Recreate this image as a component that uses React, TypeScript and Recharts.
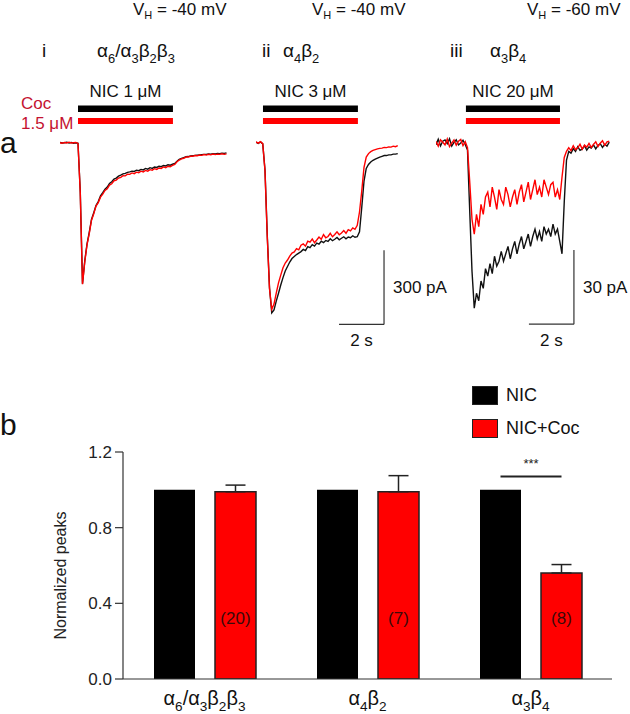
import React from "react";
import {
  LineChart,
  Line,
  XAxis,
  YAxis,
  ReferenceArea,
  ReferenceLine,
  BarChart,
  Bar,
  ErrorBar,
  LabelList,
  Legend,
} from "recharts";

const FONT = "'Liberation Sans', Arial, Helvetica, sans-serif";
const RED = "#ff0000";
const COC_TEXT = "#c41230";

// ---- panel a: whole-cell currents (pA), sampled every DT seconds ----
const DT = 0.1;

// i  α6/α3β2β3, NIC 1 µM
const nicTraceI = [
  1, -1, 0, 2, -1, 1, -2, 0, -2,
  -195, -570, -478, -410, -362, -310, -283, -254, -238, -215, -202,
  -188, -179, -165, -158, -147, -143, -135, -131, -126, -124,
  -120, -118, -115, -116, -111, -113, -108, -110, -104, -107,
  -101, -104, -98, -100, -95, -97, -92, -94, -89, -91,
  -87, -84, -75, -67, -63, -60, -57, -56, -54, -53,
  -51, -50, -49, -48, -47, -47, -45, -46, -44, -45,
  -43, -44, -42, -43, -41,
];
const cocTraceI = [
  0, -2, 1, -1, 2, -1, 0, 1, -3,
  -200, -572, -482, -413, -367, -313, -287, -256, -242, -220, -208,
  -193, -186, -171, -166, -154, -151, -143, -140, -133, -134,
  -127, -128, -122, -125, -119, -121, -115, -118, -112, -115,
  -109, -111, -105, -108, -102, -104, -98, -101, -95, -97,
  -92, -88, -77, -70, -65, -63, -58, -58, -55, -55,
  -52, -53, -50, -51, -48, -50, -47, -49, -46, -48,
  -46, -47, -45, -47, -45,
];

// ii  α4β2, NIC 3 µM
const nicTraceII = [
  2, -3, 3, -5, -110, -372, -585, -688, -676, -640,
  -608, -575, -545, -518, -500, -482, -468, -460, -452, -446,
  -440, -431, -436, -420, -424, -412, -418, -406, -410, -398,
  -404, -395, -399, -388, -396, -390, -383, -392, -386, -380,
  -388, -381, -384, -376, -382, -380, -360, -262, -155, -104,
  -88, -78, -71, -66, -62, -58, -55, -52, -52, -49,
  -49, -46, -46, -44,
];
const cocTraceII = [
  3, -2, 4, -4, -114, -380, -590, -673, -652, -608,
  -566, -535, -505, -486, -474, -458, -446, -441, -428, -433,
  -414, -409, -418, -398, -402, -389, -404, -393, -381, -390,
  -371, -384, -379, -366, -380, -371, -360, -372, -365, -355,
  -366, -351, -356, -344, -350, -334, -280, -195, -100, -58,
  -44, -36, -31, -28, -25, -23, -22, -19, -20, -17,
  -18, -14, -16, -12,
];

// iii  α3β4, NIC 20 µM
const nicTraceIII = [
  -0.8, 1.4, -1.3, 0.6, 1.1, -0.4, 1.6, -1.4, 0.1, 1.2, -0.9, -0.1, 1.0, -0.7,
  -3, -28, -52, -67, -61, -64,
  -56, -59, -51, -54, -49, -53, -46, -50, -48, -44,
  -48, -45, -42, -47, -43, -40, -45, -41, -38, -43,
  -40, -37, -42, -38, -35, -39, -36, -40, -34, -37,
  -35, -38, -33, -37, -35, -40, -45, -24, -7, -3.5,
  -4.2, -2.4, -3.5, -1.6, -3.1, -2.6, -1.2, -3.0, -1.7, -2.2,
  -0.9, -2.5, -1.1, -0.4, -1.9, -0.6, -1.4, 0.2,
];
const cocTraceIII = [
  0.5, -1.4, 1.2, 0.2, -0.9, 1.5, -1.6, -0.2, 1.1, -1.0, 0.6, 1.3, -1.2, 0.4,
  -2, -16, -31, -37, -29, -34,
  -25, -29, -22, -20, -26, -18, -22, -27, -19, -23,
  -25, -18, -21, -26, -22, -19, -25, -20, -17, -24,
  -20, -16, -23, -19, -15, -21, -18, -22, -15, -18,
  -21, -17, -16, -22, -19, -23, -14, -6, -3.5, -2,
  -3.2, -1.2, -2.8, -2.1, -0.6, -2.6, -1.0, -1.8, -0.3, -1.9,
  -0.7, 0.4, -1.6, -0.2, 0.8, -1.1, 0.3, 0.6,
];

// ---- panel annotations ----
const panelNumerals = ["i", "ii", "iii"];
const holdingPotentials = [-40, -40, -60]; // mV
const nicConc = [1, 3, 20]; // µM
const applyWindows = [
  [0.8, 5.02],
  [0.31, 4.53],
  [1.33, 5.51],
]; // s, NIC (+Coc) application

// ---- panel b: normalized peak currents ----
const receptors = ["α6/α3β2β3", "α4β2", "α3β4"];
const nicPeaks = [1, 1, 1];
const cocPeaks = [0.99, 0.99, 0.56];
const cocSem = [0.035, 0.085, 0.045];
const cellCounts = [20, 7, 8];
const significance = ["", "", "***"];
const yTicks = [0, 0.4, 0.8, 1.2];

// layout of the traces
const PX_PER_S = 22.5;
const TRACE_TOP = 70;
const TRACE_H = 290;
const BASE_Y = 72.7;
const BAR_SIZE = 41;
const BAR_GAP = 20;

// digits are drawn as subscripts
function subParts(label: string, fs: number) {
  const parts = label.match(/\d+|\D+/g) || [];
  let down = false;
  return parts.map((p, k) => {
    const isSub = /\d/.test(p);
    let dy = 0;
    if (isSub && !down) {
      dy = fs * 0.3;
      down = true;
    } else if (!isSub && down) {
      dy = -fs * 0.3;
      down = false;
    }
    return (
      <tspan key={k} dy={dy} fontSize={isSub ? fs * 0.68 : fs}>
        {p}
      </tspan>
    );
  });
}

type ScaleBar = { t: number; i: number; amp: number };

function TracePanel(props: {
  left: number;
  width: number;
  pAperPx: number;
  nic: number[];
  coc: number[];
  apply: number[];
  conc: number;
  scale?: ScaleBar;
}) {
  const { left, width, pAperPx, nic, coc, apply, conc, scale } = props;
  const data = nic.map((v, k) => ({ t: +(k * DT).toFixed(2), nic: v, coc: coc[k] }));
  const yDomain = [-(TRACE_H - BASE_Y) * pAperPx, BASE_Y * pAperPx];
  const txt = { fill: "#111", fontSize: 17, fontFamily: FONT };
  return (
    <div style={{ position: "absolute", left, top: TRACE_TOP }}>
      <LineChart width={width} height={TRACE_H} data={data} margin={{ top: 0, right: 0, bottom: 0, left: 0 }}>
        <XAxis dataKey="t" type="number" domain={[0, width / PX_PER_S]} allowDataOverflow hide />
        <YAxis yAxisId="pA" type="number" domain={yDomain} allowDataOverflow hide width={0} />
        <YAxis yAxisId="ann" type="number" domain={[0, TRACE_H]} reversed allowDataOverflow hide width={0} />
        <ReferenceArea
          yAxisId="ann"
          x1={apply[0]}
          x2={apply[1]}
          y1={35.5}
          y2={42}
          fill="#000"
          fillOpacity={1}
          stroke="none"
          label={{ value: `NIC ${conc} μM`, position: "top", offset: 9, ...txt }}
        />
        <ReferenceArea yAxisId="ann" x1={apply[0]} x2={apply[1]} y1={48} y2={54} fill={RED} fillOpacity={1} stroke="none" />
        <Line yAxisId="pA" dataKey="nic" stroke="#111" strokeWidth={1.4} dot={false} isAnimationActive={false} />
        <Line yAxisId="pA" dataKey="coc" stroke={RED} strokeWidth={1.4} dot={false} isAnimationActive={false} />
        {scale && (
          <ReferenceLine
            yAxisId="pA"
            segment={[
              { x: scale.t - 2, y: scale.i },
              { x: scale.t, y: scale.i },
            ]}
            stroke="#333"
            strokeWidth={1.2}
            label={{ value: "2 s", position: "bottom", offset: 10, ...txt }}
          />
        )}
        {scale && (
          <ReferenceLine
            yAxisId="pA"
            segment={[
              { x: scale.t, y: scale.i },
              { x: scale.t, y: scale.i + scale.amp },
            ]}
            stroke="#333"
            strokeWidth={1.2}
            label={{ value: `${scale.amp} pA`, position: "right", offset: 9, ...txt }}
          />
        )}
      </LineChart>
    </div>
  );
}

function ReceptorTick(props: any) {
  const { x, y, payload } = props;
  return (
    <text x={x} y={y + 18} textAnchor="middle" fill="#111" fontSize={20} fontFamily={FONT}>
      {subParts(String(payload.value), 20)}
    </text>
  );
}

function YLabel(props: any) {
  const vb = props.viewBox || { y: 0, height: 0 };
  const cx = 60;
  const cy = vb.y + vb.height / 2 + 10;
  return (
    <text
      x={cx}
      y={cy}
      transform={`rotate(-90, ${cx}, ${cy})`}
      textAnchor="middle"
      dominantBaseline="central"
      fill="#222"
      fontSize={16}
      fontFamily={FONT}
    >
      {props.value}
    </text>
  );
}

function CountLabel(props: any) {
  const vb = props.viewBox || props;
  const { x, y, width, height } = vb;
  const k = props.index ?? 0;
  const perUnit = height / cocPeaks[k];
  const ty = y + height - 0.32 * perUnit;
  return (
    <text x={x + width / 2} y={ty + 6} textAnchor="middle" fill="#3a0a0a" fontSize={17} fontFamily={FONT}>
      ({props.value})
    </text>
  );
}

function SigLabel(props: any) {
  if (!props.value) return null;
  const vb = props.viewBox || props;
  const { x, y, width, height } = vb;
  const k = props.index ?? 0;
  const perUnit = height / cocPeaks[k];
  const bottom = y + height;
  const xr = x + width / 2;
  const xl = xr - (BAR_SIZE + BAR_GAP);
  const yl = bottom - 1.07 * perUnit;
  return (
    <g>
      <line x1={xl} x2={xr} y1={yl} y2={yl} stroke="#222" strokeWidth={2} />
      <text x={(xl + xr) / 2} y={yl - 9} textAnchor="middle" fill="#222" fontSize={13} fontFamily={FONT}>
        {props.value}
      </text>
    </g>
  );
}

function LegendContent(props: any) {
  const items = props.payload || [];
  return (
    <div style={{ fontFamily: FONT, fontSize: 18, color: "#111" }}>
      {items.map((it: any, k: number) => (
        <div key={k} style={{ display: "flex", alignItems: "center", height: 33 }}>
          <span
            style={{
              display: "inline-block",
              width: 24,
              height: 17,
              background: it.color,
              border: "1px solid #222",
              marginRight: 8,
            }}
          />
          <span>{it.value}</span>
        </div>
      ))}
    </div>
  );
}

export default function App() {
  const barData = receptors.map((r, k) => ({
    receptor: r,
    nic: nicPeaks[k],
    coc: cocPeaks[k],
    cocErr: [0, cocSem[k]],
    n: cellCounts[k],
    sig: significance[k],
  }));

  const numeralX = [42, 262, 450];
  const receptorX = [97, 283, 490];
  const vhX = [133, 312, 527];

  return (
    <div style={{ position: "absolute", left: 0, top: 0, width: 630, height: 714, background: "#fff", overflow: "hidden" }}>
      <svg width={630} height={714} style={{ position: "absolute", left: 0, top: 0 }} fontFamily={FONT}>
        {holdingPotentials.map((v, k) => (
          <text key={`vh${k}`} x={vhX[k]} y={15} fontSize={17} fill="#111">
            V<tspan dy={4} fontSize={11}>H</tspan>
            <tspan dy={-4}>{` = ${v} mV`}</tspan>
          </text>
        ))}
        {panelNumerals.map((n, k) => (
          <text key={`n${k}`} x={numeralX[k]} y={57} fontSize={19} fill="#111">
            {n}
          </text>
        ))}
        {receptors.map((r, k) => (
          <text key={`r${k}`} x={receptorX[k]} y={57} fontSize={19} fill="#111">
            {subParts(r, 19)}
          </text>
        ))}
        <text x={21} y={109} fontSize={17} fill={COC_TEXT}>
          Coc
        </text>
        <text x={21} y={129} fontSize={17} fill={COC_TEXT}>
          1.5 μM
        </text>
        <text x={0} y={153} fontSize={30} fill="#111">
          a
        </text>
        <text x={0} y={435} fontSize={30} fill="#111">
          b
        </text>
      </svg>

      <TracePanel left={60} width={175} pAperPx={4.04} nic={nicTraceI} coc={cocTraceI} apply={applyWindows[0]} conc={nicConc[0]} />
      <TracePanel
        left={256}
        width={200}
        pAperPx={4.04}
        nic={nicTraceII}
        coc={cocTraceII}
        apply={applyWindows[1]}
        conc={nicConc[1]}
        scale={{ t: 5.69, i: -734, amp: 300 }}
      />
      <TracePanel
        left={436}
        width={194}
        pAperPx={0.405}
        nic={nicTraceIII}
        coc={cocTraceIII}
        apply={applyWindows[2]}
        conc={nicConc[2]}
        scale={{ t: 6.13, i: -73.5, amp: 30 }}
      />

      <div style={{ position: "absolute", left: 0, top: 370 }}>
        <BarChart
          width={630}
          height={344}
          data={barData}
          margin={{ top: 82, right: 18, bottom: 0, left: 0 }}
          barGap={BAR_GAP}
          barSize={BAR_SIZE}
        >
          <XAxis
            dataKey="receptor"
            height={35}
            interval={0}
            axisLine={{ stroke: "#333", strokeWidth: 1.2 }}
            tickLine={false}
            tick={<ReceptorTick />}
          />
          <YAxis
            width={123}
            domain={[0, 1.2]}
            ticks={yTicks}
            allowDataOverflow
            tickFormatter={(v: number) => v.toFixed(1)}
            tickSize={8}
            tickMargin={3}
            axisLine={{ stroke: "#333", strokeWidth: 1.2 }}
            tickLine={{ stroke: "#333", strokeWidth: 1.2 }}
            tick={{ fill: "#222", fontSize: 17, fontFamily: FONT }}
            label={{ value: "Normalized peaks", content: YLabel }}
          />
          <Legend
            layout="vertical"
            align="center"
            verticalAlign="middle"
            wrapperStyle={{ top: 9, left: 472, width: 150 }}
            content={LegendContent}
          />
          <Bar dataKey="nic" name="NIC" fill="#000" isAnimationActive={false} />
          <Bar dataKey="coc" name="NIC+Coc" fill={RED} stroke="#222" strokeWidth={1.5} isAnimationActive={false}>
            <ErrorBar dataKey="cocErr" width={10} stroke="#222" strokeWidth={1.5} />
            <LabelList dataKey="n" content={CountLabel} />
            <LabelList dataKey="sig" content={SigLabel} />
          </Bar>
        </BarChart>
      </div>
    </div>
  );
}
